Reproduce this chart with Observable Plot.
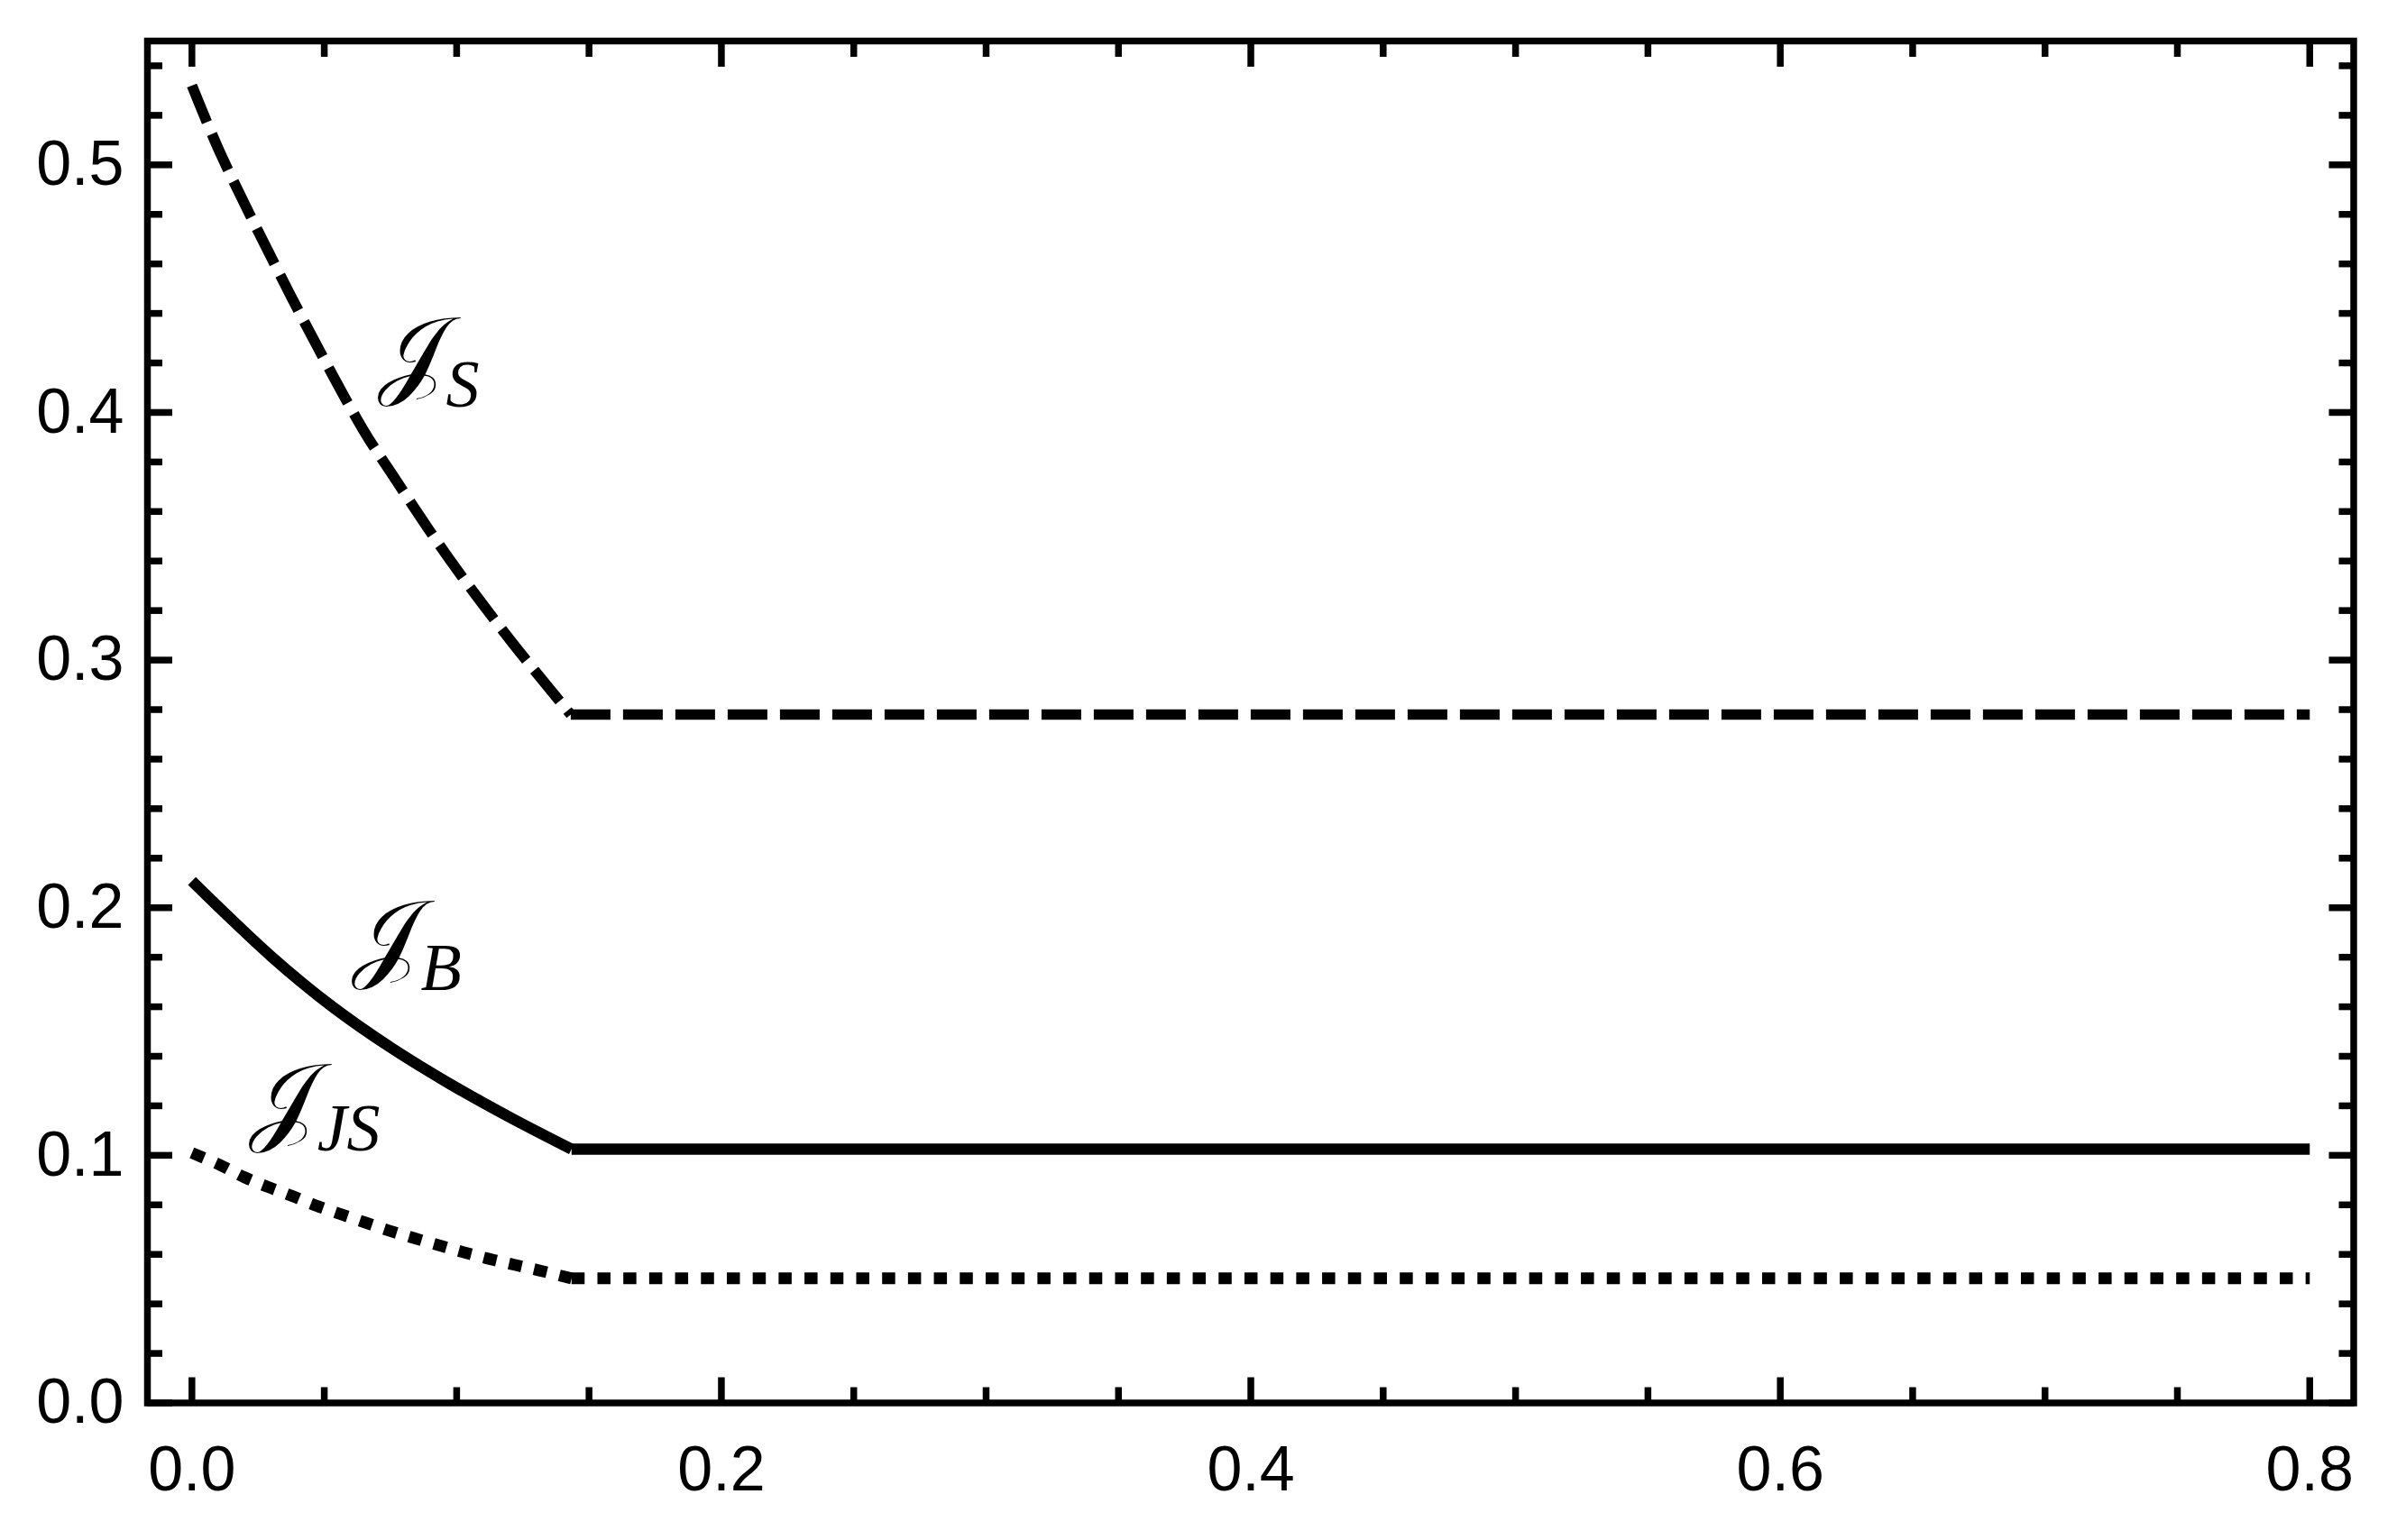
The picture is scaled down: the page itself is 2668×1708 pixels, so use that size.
<!DOCTYPE html>
<html><head><meta charset="utf-8">
<script src="https://cdn.jsdelivr.net/npm/d3@7"></script>
<script src="https://cdn.jsdelivr.net/npm/@observablehq/plot@0.6"></script>
<style>
html,body{margin:0;padding:0;background:#fff;}
#chart svg{display:block;}
</style></head><body><div id="chart"></div>
<script>
// J_S (dashed)
const JS_x = [0, 0.0106, 0.0279, 0.0457, 0.0647, 0.0750, 0.0971, 0.1203, 0.1431, 0.8];
const JS_y = [0.532, 0.505, 0.467, 0.430, 0.393, 0.376, 0.341, 0.308, 0.278, 0.278];
// J_B (solid)
const JB_x = [0, 0.0299, 0.0526, 0.0753, 0.098, 0.1207, 0.1434, 0.8];
const JB_y = [0.2108, 0.1804, 0.1604, 0.1434, 0.1285, 0.1150, 0.1025, 0.1025];
// J_JS (dotted)
const JJS_x = [0, 0.0106, 0.0197, 0.0288, 0.0378, 0.0469, 0.056, 0.0651, 0.0742, 0.0838,
               0.0935, 0.1025, 0.1122, 0.1218, 0.1309, 0.1434, 0.8];
const JJS_y = [0.1010, 0.0961, 0.0912, 0.0872, 0.0836, 0.0797, 0.0763, 0.0730, 0.0697, 0.0666,
               0.0636, 0.0609, 0.0582, 0.0558, 0.0536, 0.0503, 0.0503];

// ticks
const xMajor = [0, 0.2, 0.4, 0.6, 0.8];
const xMinor = [0.05, 0.1, 0.15, 0.25, 0.3, 0.35, 0.45, 0.5, 0.55, 0.65, 0.7, 0.75];
const yMajor = [0, 0.1, 0.2, 0.3, 0.4, 0.5];
const yMinor = [0.02, 0.04, 0.06, 0.08, 0.12, 0.14, 0.16, 0.18, 0.22, 0.24, 0.26, 0.28,
                0.32, 0.34, 0.36, 0.38, 0.42, 0.44, 0.46, 0.48, 0.52, 0.54];

// curve labels: script J with italic subscript (data coordinates, baseline-left)
const labelMain = ["\u{1D4A5}", "\u{1D4A5}", "\u{1D4A5}"];
const labelSub = ["S", "B", "JS"];
const labelX = [0.0701, 0.0605, 0.0214];
const labelY = [0.4107, 0.1751, 0.1091];
const subY = [0.4024, 0.1666, 0.1018];

function pts(xs, ys) { return xs.map((x, i) => ({x, y: ys[i]})); }
function curved(xs, ys) { return pts(xs, ys).slice(0, -1); }
function flat(xs, ys) { return pts(xs, ys).slice(-2); }

const mainLabels = labelMain.map((t, i) => ({t, x: labelX[i], y: labelY[i]}));

const dashS = {stroke: "black", strokeWidth: 11.7, strokeDasharray: "44,14", strokeLinecap: "butt", strokeLinejoin: "round"};
const solidB = {stroke: "black", strokeWidth: 12.3, strokeLinecap: "butt", strokeLinejoin: "round"};
const dotJS = {stroke: "black", strokeWidth: 13, strokeDasharray: "14.5,14.2", strokeLinecap: "butt", strokeLinejoin: "round"};

const tickStyle = {strokeWidth: 7.5, fill: "none", label: null};

const chart = Plot.plot({
  width: 2668,
  height: 1708,
  marginLeft: 163,
  marginRight: 58.5,
  marginTop: 45,
  marginBottom: 152.5,
  x: {domain: [-0.0168, 0.8166], label: null},
  y: {domain: [0, 0.55], label: null},
  style: {fontFamily: "'Liberation Sans', Arial, sans-serif", background: "white", color: "black"},
  marks: [
    Plot.line(curved(JS_x, JS_y), {x: "x", y: "y", curve: "catmull-rom", ...dashS}),
    Plot.line(flat(JS_x, JS_y), {x: "x", y: "y", ...dashS}),
    Plot.line(curved(JB_x, JB_y), {x: "x", y: "y", curve: "catmull-rom", ...solidB}),
    Plot.line(flat(JB_x, JB_y), {x: "x", y: "y", ...solidB}),
    Plot.line(curved(JJS_x, JJS_y), {x: "x", y: "y", curve: "catmull-rom", ...dotJS}),
    Plot.line(flat(JJS_x, JJS_y), {x: "x", y: "y", ...dotJS}),

    Plot.text(mainLabels, {x: "x", y: "y", text: "t", textAnchor: "start", lineAnchor: "bottom",
      fontSize: 110, fontFamily: "'DejaVu Serif', 'DejaVu Sans', serif", fill: "black"}),

    // inward ticks on all four sides
    Plot.axisX(xMajor, {anchor: "bottom", tickSize: -28, ...tickStyle}),
    Plot.axisX(xMinor, {anchor: "bottom", tickSize: -17, ...tickStyle}),
    Plot.axisX(xMajor, {anchor: "top", tickSize: -28, ...tickStyle}),
    Plot.axisX(xMinor, {anchor: "top", tickSize: -17, ...tickStyle}),
    Plot.axisY(yMajor, {anchor: "left", tickSize: -28, ...tickStyle}),
    Plot.axisY(yMinor, {anchor: "left", tickSize: -17, ...tickStyle}),
    Plot.axisY(yMajor, {anchor: "right", tickSize: -28, ...tickStyle}),
    Plot.axisY(yMinor, {anchor: "right", tickSize: -17, ...tickStyle}),

    // tick labels
    Plot.axisX(xMajor, {anchor: "bottom", tickSize: 0, tickPadding: 47.5, fontSize: 70, tickFormat: ".1f", label: null}),
    Plot.axisY(yMajor, {anchor: "left", tickSize: 0, tickPadding: 26, fontSize: 70, tickFormat: ".1f", label: null}),

    Plot.frame({stroke: "black", strokeWidth: 7.5})
  ]
});

// attach the italic subscripts right after the script J (flowing text, lowered via the y scale)
const sy = chart.scale("y");
let k = 0;
d3.select(chart).selectAll("text").each(function() {
  if (this.textContent === "\u{1D4A5}" && k < labelSub.length) {
    const i = k++;
    d3.select(this).append("tspan")
      .attr("dy", sy.apply(subY[i]) - sy.apply(labelY[i]))
      .attr("font-size", 74)
      .attr("font-style", "italic")
      .attr("font-family", "'Liberation Serif', 'Times New Roman', serif")
      .text(labelSub[i]);
  }
});
document.getElementById("chart").appendChild(chart);
</script>
</body></html>
